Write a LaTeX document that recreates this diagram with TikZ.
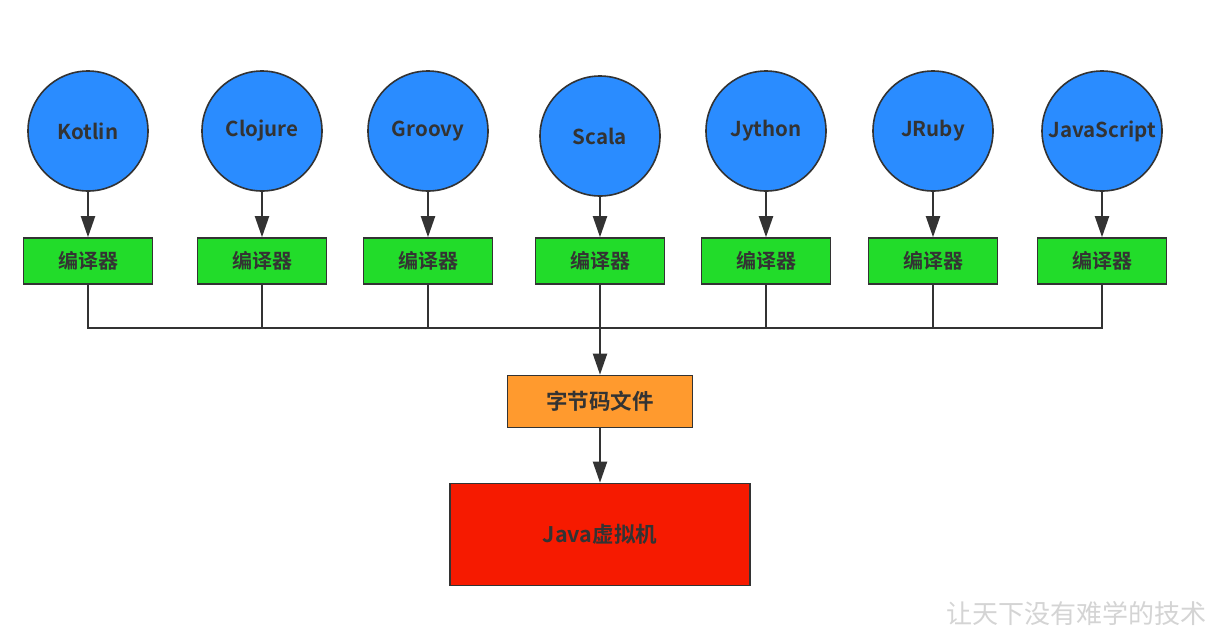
\documentclass[tikz,border=0pt]{standalone}
\usepackage{fontspec}
\setmainfont{Noto Sans CJK SC}[BoldFont={* Bold}]
\usepackage{xcolor}
\usetikzlibrary{arrows.meta}
\definecolor{langblue}{HTML}{2A8CFF}
\definecolor{compgreen}{HTML}{22DC2A}
\definecolor{bcorange}{HTML}{FF9A2E}
\definecolor{jvmred}{HTML}{F61A00}
\definecolor{edge}{HTML}{333333}
\definecolor{mark}{HTML}{D4D4D4}
\tikzstyle{lang}=[circle,draw=edge,line width=1.6pt,fill=langblue,minimum size=120pt,inner sep=0pt,font=\bfseries\fontsize{20.5}{24}\selectfont,text=edge]
\tikzstyle{comp}=[rectangle,draw=edge,line width=1.6pt,fill=compgreen,minimum width=129pt,minimum height=46pt,inner sep=0pt,font=\bfseries\fontsize{20}{24}\selectfont,text=edge]
\tikzstyle{big}=[font=\bfseries\fontsize{21.5}{26}\selectfont]
\tikzstyle{wire}=[line width=2pt,draw=edge]
\tikzstyle{arr} =[wire,-{Triangle[length=21pt,width=14pt]}]
\begin{document}
\begin{tikzpicture}[x=1pt,y=-1pt]
	\useasboundingbox[fill=white] (0,0) rectangle (1215,638);
	\foreach \i/\x/\y/\name in {1/88/131/Kotlin, 2/262/131/Clojure, 3/428/131/Groovy, 4/600/136/Scala,
	                            5/766/131/Jython, 6/933/131/JRuby, 7/1102/131/JavaScript} {
		\node[lang] (l\i) at (\x,\y) {\name};
		\node[comp] (c\i) at (\x,261) {编译器};
		\draw[arr] (l\i) -- (c\i);
	}
	\coordinate (bus) at (600,328);
	\node[comp,big,fill=bcorange,minimum width=185pt,minimum height=52pt] (bc) at (600,401.5) {字节码文件};
	\node[comp,big,fill=jvmred,minimum width=300pt,minimum height=102pt] (jvm) at (600,534.5) {Java虚拟机};
	\foreach \i in {1,...,7}
		\draw[wire] (c\i.south) |- (bus);
	\draw[arr] (bus) -- (bc.north);
	\draw[arr] (bc) -- (jvm);
	\node[text=mark,font=\fontsize{26}{30}\selectfont,anchor=east] (wm) at (1210,614) {让天下没有难学的技术};
\end{tikzpicture}
\end{document}
